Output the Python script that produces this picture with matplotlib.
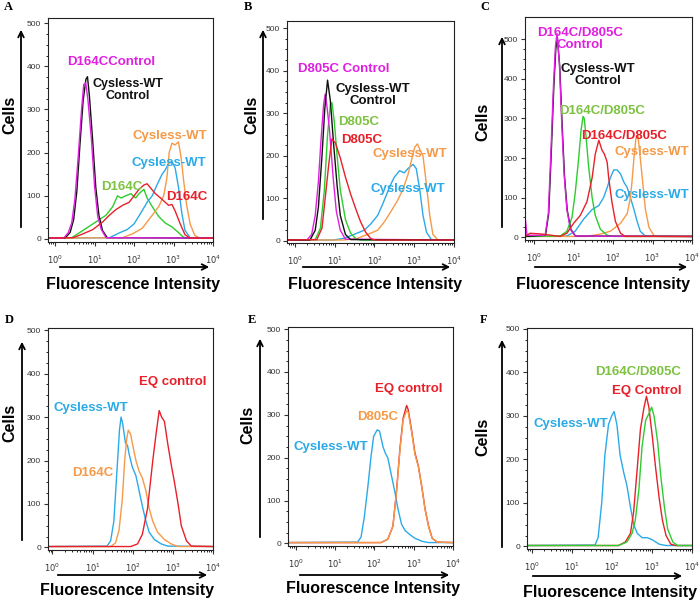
import numpy as np
import matplotlib
matplotlib.use('Agg')
import matplotlib.pyplot as plt
from matplotlib.ticker import FixedLocator, LogLocator, NullFormatter

plt.rcParams['font.family'] = ['Liberation Sans', 'DejaVu Sans']

# colours
MAG = '#e020e0'
BLK = '#111111'
GRN = '#2ecc2e'
GRN_T = '#7dc242'
RED = '#e8202a'
BLU = '#2aaae8'
ORG = '#f59a48'

# curves: (log10 fluorescence, cells)
A_mag = [(0.21, 1.5), (0.33, 14), (0.42, 37), (0.5, 91), (0.58, 184), (0.67, 300), (0.725, 358),
         (0.775, 362), (0.83, 324), (0.92, 231), (1.0, 122), (1.08, 52), (1.17, 22), (1.29, 3)]
A_blk = [(0.25, 2), (0.38, 15), (0.47, 45), (0.55, 110), (0.63, 220), (0.71, 320), (0.78, 370),
         (0.82, 376), (0.87, 330), (0.95, 230), (1.03, 120), (1.11, 55), (1.2, 20), (1.32, 3)]
A_grn = [(0.42, 3), (0.625, 15), (0.875, 30), (1.125, 45), (1.29, 55), (1.46, 75), (1.58, 100),
         (1.67, 95), (1.79, 100), (1.92, 105), (2.04, 95), (2.125, 105), (2.25, 115), (2.33, 95),
         (2.46, 75), (2.625, 52), (2.79, 37), (2.96, 28), (3.125, 15), (3.25, 4), (3.375, 2)]
A_red = [(0.46, 3), (0.71, 12), (0.96, 22), (1.21, 40), (1.375, 55), (1.54, 68), (1.71, 78),
         (1.875, 85), (2.0, 100), (2.125, 115), (2.25, 125), (2.33, 128), (2.42, 118), (2.54, 105),
         (2.67, 95), (2.79, 85), (2.875, 78), (2.96, 80), (3.04, 65), (3.17, 35), (3.29, 10), (3.42, 2)]
A_blu = [(1.375, 3), (1.625, 14), (1.83, 22), (2.0, 35), (2.17, 60), (2.33, 85), (2.46, 100),
         (2.58, 125), (2.71, 150), (2.79, 160), (2.875, 175), (2.96, 180), (3.04, 165), (3.125, 120),
         (3.21, 60), (3.29, 20), (3.42, 3)]
A_org = [(1.71, 3), (1.96, 12), (2.21, 25), (2.46, 55), (2.625, 75), (2.75, 100), (2.83, 140),
         (2.89, 200), (2.96, 222), (3.04, 218), (3.125, 225), (3.19, 190), (3.25, 140), (3.33, 80),
         (3.42, 35), (3.54, 8), (3.67, 2)]

B_mag = [(0.3, 2), (0.42, 15), (0.51, 60), (0.59, 140), (0.65, 230), (0.72, 320), (0.76, 345),
         (0.8, 320), (0.87, 260), (0.96, 150), (1.04, 70), (1.14, 25), (1.27, 4)]
B_blk = [(0.38, 2), (0.51, 25), (0.59, 80), (0.68, 200), (0.75, 310), (0.82, 378), (0.89, 330),
         (0.97, 230), (1.06, 130), (1.14, 60), (1.27, 15), (1.4, 3)]
B_grn = [(0.51, 3), (0.64, 30), (0.74, 120), (0.82, 250), (0.89, 320), (0.93, 325), (0.99, 280),
         (1.06, 200), (1.14, 120), (1.27, 50), (1.4, 18), (1.53, 5), (1.65, 2)]
B_red = [(0.55, 3), (0.68, 30), (0.76, 100), (0.85, 180), (0.93, 240), (1.02, 230), (1.14, 195),
         (1.27, 150), (1.4, 110), (1.53, 75), (1.65, 45), (1.78, 20), (1.91, 5), (2.03, 2)]
B_blu = [(0.97, 2), (1.23, 6), (1.48, 15), (1.74, 25), (1.91, 40), (2.08, 60), (2.2, 85),
         (2.33, 115), (2.42, 135), (2.5, 150), (2.63, 165), (2.75, 160), (2.84, 170), (2.97, 180),
         (3.05, 170), (3.14, 120), (3.22, 60), (3.31, 20), (3.43, 3)]
B_org = [(1.23, 2), (1.57, 6), (1.82, 15), (2.08, 25), (2.25, 45), (2.42, 70), (2.58, 95),
         (2.71, 120), (2.84, 155), (2.92, 185), (3.01, 220), (3.08, 228), (3.14, 215), (3.22, 200),
         (3.31, 130), (3.39, 60), (3.47, 15), (3.6, 2)]

C_mag = [(-0.23, 55), (-0.18, 5), (0.28, 5), (0.36, 60), (0.42, 200), (0.49, 380), (0.54, 480),
         (0.58, 515), (0.64, 440), (0.7, 290), (0.76, 160), (0.83, 70), (0.92, 20), (1.04, 3)]
C_blk = [(0.29, 5), (0.37, 60), (0.43, 200), (0.5, 380), (0.55, 475), (0.59, 505), (0.65, 430),
         (0.71, 285), (0.77, 155), (0.84, 68), (0.93, 20), (1.05, 3)]
C_grn = [(0.66, 3), (0.83, 15), (0.96, 50), (1.04, 110), (1.13, 200), (1.19, 270), (1.24, 305),
         (1.27, 300), (1.32, 250), (1.38, 180), (1.47, 100), (1.55, 55), (1.68, 20), (1.85, 5), (2.02, 2)]
C_red = [(-0.1, 10), (0.2, 8), (0.66, 2), (0.83, 10), (1.0, 35), (1.17, 55), (1.34, 90), (1.47, 150),
         (1.55, 210), (1.64, 245), (1.72, 220), (1.78, 210), (1.85, 190), (1.89, 150), (1.97, 90),
         (2.06, 40), (2.19, 10), (2.31, 2)]
C_blu = [(0.83, 3), (1.04, 15), (1.25, 45), (1.47, 70), (1.64, 80), (1.76, 100), (1.85, 125),
         (1.93, 150), (2.02, 170), (2.1, 170), (2.19, 160), (2.27, 140), (2.36, 125), (2.44, 100),
         (2.53, 70), (2.61, 40), (2.69, 15), (2.82, 3)]
C_org = [(1.34, 2), (1.68, 8), (1.93, 15), (2.19, 35), (2.36, 60), (2.44, 100), (2.48, 140),
         (2.53, 200), (2.58, 250), (2.63, 258), (2.69, 200), (2.76, 130), (2.82, 70), (2.91, 25),
         (3.03, 5), (3.16, 2)]

D_blu = [(1.36, 3), (1.45, 15), (1.53, 60), (1.61, 180), (1.67, 270), (1.71, 300), (1.75, 285),
         (1.82, 240), (1.87, 235), (1.91, 215), (1.99, 185), (2.08, 165), (2.16, 130), (2.24, 95),
         (2.33, 60), (2.41, 35), (2.54, 18), (2.71, 8), (2.87, 3)]
D_org = [(1.45, 2), (1.57, 10), (1.66, 40), (1.74, 110), (1.8, 200), (1.85, 250), (1.89, 270),
         (1.95, 260), (1.99, 240), (2.08, 200), (2.16, 175), (2.24, 160), (2.33, 130), (2.41, 90),
         (2.5, 60), (2.62, 35), (2.79, 18), (2.96, 8), (3.13, 2)]
D_red = [(1.95, 2), (2.12, 8), (2.24, 30), (2.37, 90), (2.5, 200), (2.58, 260), (2.66, 315),
         (2.72, 300), (2.79, 290), (2.87, 240), (2.96, 190), (3.04, 150), (3.13, 100), (3.21, 50),
         (3.34, 15), (3.46, 3)]

E_blu = [(1.57, 3), (1.66, 15), (1.74, 60), (1.83, 130), (1.91, 200), (1.98, 250), (2.07, 265),
         (2.13, 262), (2.22, 225), (2.28, 210), (2.34, 200), (2.43, 160), (2.52, 120), (2.6, 80),
         (2.69, 45), (2.78, 30), (2.91, 20), (3.03, 12), (3.21, 5), (3.38, 2)]
E_red = [(2.17, 2), (2.34, 10), (2.47, 40), (2.56, 120), (2.65, 222), (2.73, 292), (2.82, 322),
         (2.86, 312), (2.95, 262), (3.03, 212), (3.12, 180), (3.21, 130), (3.29, 80), (3.38, 40),
         (3.47, 12), (3.6, 3)]
E_org = [(2.17, 2), (2.34, 10), (2.47, 40), (2.56, 118), (2.65, 218), (2.73, 288), (2.82, 310),
         (2.86, 306), (2.95, 258), (3.03, 208), (3.12, 178), (3.21, 128), (3.29, 78), (3.38, 38),
         (3.47, 12), (3.6, 3)]

F_blu = [(1.57, 3), (1.65, 20), (1.74, 100), (1.82, 210), (1.91, 280), (1.99, 300), (2.05, 310),
         (2.12, 280), (2.2, 210), (2.29, 170), (2.37, 140), (2.46, 90), (2.54, 50), (2.63, 30),
         (2.75, 20), (2.88, 20), (3.01, 15), (3.18, 5), (3.35, 2)]
F_red = [(2.16, 2), (2.33, 10), (2.46, 30), (2.54, 80), (2.63, 180), (2.71, 270), (2.8, 320),
         (2.86, 345), (2.92, 320), (3.01, 250), (3.09, 180), (3.18, 110), (3.26, 60), (3.35, 25),
         (3.47, 5), (3.6, 2)]
F_grn = [(2.16, 2), (2.37, 10), (2.5, 30), (2.58, 60), (2.67, 130), (2.75, 230), (2.84, 290),
         (2.92, 305), (2.99, 320), (3.05, 300), (3.14, 240), (3.22, 160), (3.31, 90), (3.39, 40),
         (3.52, 10), (3.64, 2)]

# labels: (text, log10 x, cells, colour, ha, size)
A_labels = [('D164CControl', 0.3, 410, MAG, 'left', 9.5), ('Cysless-WT\nControl', 1.84, 345, BLK, 'center', 9),
            ('Cysless-WT', 1.95, 238, ORG, 'left', 9.5), ('Cysless-WT', 1.925, 176, BLU, 'left', 9.5),
            ('D164C', 1.175, 120, GRN_T, 'left', 9.5), ('D164C', 2.825, 97, RED, 'left', 9.5)]
B_labels = [('D805C Control', 0.08, 405, MAG, 'left', 9.5), ('Cysless-WT\nControl', 1.96, 342, BLK, 'center', 9.5),
            ('D805C', 1.09, 280, GRN_T, 'left', 9.5), ('D805C', 1.15, 238, RED, 'left', 9.5),
            ('Cysless-WT', 1.96, 205, ORG, 'left', 9.5), ('Cysless-WT', 1.91, 122, BLU, 'left', 9.5)]
C_labels = [('D164C/D805C\nControl', 1.17, 500, MAG, 'center', 9.5), ('Cysless-WT\nControl', 1.62, 410, BLK, 'center', 9.5),
            ('D164C/D805C', 1.72, 318, GRN_T, 'center', 9.5), ('D164C/D805C', 2.27, 256, RED, 'center', 9.5),
            ('Cysless-WT', 2.03, 214, ORG, 'left', 9.5), ('Cysless-WT', 2.03, 106, BLU, 'left', 9.5)]
D_labels = [('EQ control', 2.16, 380, RED, 'left', 9.5), ('Cysless-WT', 0.02, 320, BLU, 'left', 9.5),
            ('D164C', 0.48, 171, ORG, 'left', 9.5)]
E_labels = [('EQ control', 2.02, 361, RED, 'left', 9.5), ('D805C', 1.57, 295, ORG, 'left', 9.5),
            ('Cysless-WT', -0.07, 226, BLU, 'left', 9.5)]
F_labels = [('D164C/D805C', 1.57, 401, GRN_T, 'left', 9.5), ('EQ Control', 2.01, 358, RED, 'left', 9.5),
            ('Cysless-WT', 0.03, 282, BLU, 'left', 9.5)]

W, H = 700, 600
fig = plt.figure(figsize=(7, 6), dpi=100)


def fx(px):
    return px / W


def fy(py):
    return 1 - py / H


def panel(box, xlo, ylim, curves, labels, letter, letter_xy, yarrow, xarrow, cells_xy, fl_xy):
    left, right, top, bottom = box
    ax = fig.add_axes([fx(left), fy(bottom), fx(right - left), (bottom - top) / H])
    for pts, col in curves:
        lx = [xlo] + [p[0] for p in pts] + [4.0]
        ly = [2] + [p[1] for p in pts] + [2]
        ax.plot(10 ** np.array(lx), ly, color=col, lw=1.0)
    ax.set_xscale('log')
    ax.set_xlim(10 ** xlo, 10 ** 4.0)
    ax.set_ylim(*ylim)
    ax.xaxis.set_major_locator(FixedLocator([1, 10, 100, 1000, 10000]))
    ax.xaxis.set_minor_locator(LogLocator(base=10, subs=np.arange(2, 10)))
    ax.xaxis.set_minor_formatter(NullFormatter())
    ax.set_xticklabels(['$10^{0}$', '$10^{1}$', '$10^{2}$', '$10^{3}$', '$10^{4}$'])
    ax.set_yticks([0, 100, 200, 300, 400, 500])
    ax.set_yticks(np.arange(25, 500, 25), minor=True)
    ax.tick_params(axis='both', which='major', direction='out', length=3, width=0.8,
                   labelsize=6, colors='#333333', pad=2)
    ax.tick_params(axis='both', which='minor', direction='out', length=1.5, width=0.6)
    ax.tick_params(axis='x', which='major', pad=5)
    for s in ax.spines.values():
        s.set_linewidth(0.8)
        s.set_color('#222222')
    for txt, lx, y, col, ha, fs in labels:
        ax.text(10 ** lx, y, txt, color=col, fontsize=fs, fontweight='bold', ha=ha, va='center',
                linespacing=1.0)
    fig.text(fx(letter_xy[0]), fy(letter_xy[1]), letter, family='Liberation Serif',
             fontweight='bold', fontsize=9, ha='left', va='center')
    # axis arrows
    x0, y0, y1 = yarrow
    fig.add_artist(matplotlib.patches.FancyArrowPatch((fx(x0), fy(y0)), (fx(x0), fy(y1)),
                   transform=fig.transFigure, arrowstyle='->', mutation_scale=10, lw=1.3, color='black'))
    xa0, xa1, ya = xarrow
    fig.add_artist(matplotlib.patches.FancyArrowPatch((fx(xa0), fy(ya)), (fx(xa1), fy(ya)),
                   transform=fig.transFigure, arrowstyle='->', mutation_scale=10, lw=1.3, color='black'))
    fig.text(fx(cells_xy[0]), fy(cells_xy[1]), 'Cells', rotation=90, fontsize=11.5, fontweight='bold',
             ha='center', va='center')
    fig.text(fx(fl_xy[0]), fy(fl_xy[1]), 'Fluorescence Intensity', fontsize=11.5, fontweight='bold',
             ha='center', va='center')
    return ax


panel((48, 213, 18, 242), -0.18, (-7, 512),
      [(A_grn, GRN), (A_blu, BLU), (A_org, ORG), (A_blk, BLK), (A_mag, MAG), (A_red, RED)],
      A_labels, 'A', (4, 7), (21, 230, 27), (57, 212, 267), (10, 115), (133, 284))
panel((287, 454, 21, 243), -0.2, (-5, 517),
      [(B_blu, BLU), (B_org, ORG), (B_grn, GRN), (B_mag, MAG), (B_blk, BLK), (B_red, RED)],
      B_labels, 'B', (244, 7), (263, 222, 27), (300, 453, 267), (252, 115), (375, 284))
panel((525, 692, 17, 240), -0.23, (-7, 556),
      [(C_blu, BLU), (C_org, ORG), (C_grn, GRN), (C_blk, BLK), (C_mag, MAG), (C_red, RED)],
      C_labels, 'C', (480, 7), (502, 230, 34), (532, 690, 267), (483, 122), (603, 284))
panel((48, 213, 328, 550), -0.11, (-6, 505),
      [(D_blu, BLU), (D_org, ORG), (D_red, RED)],
      D_labels, 'D', (5, 320), (22, 543, 339), (55, 210, 575), (10, 423), (127, 590))
panel((288, 453, 327, 546), -0.2, (-6, 505),
      [(E_blu, BLU), (E_red, RED), (E_org, ORG)],
      E_labels, 'E', (248, 320), (260, 540, 336), (297, 452, 575), (248, 425), (373, 589))
panel((527, 692, 328, 549), -0.13, (-6, 502),
      [(F_blu, BLU), (F_red, RED), (F_grn, GRN)],
      F_labels, 'F', (480, 320), (502, 550, 337), (530, 685, 576), (483, 437), (610, 592))

fig.savefig('out.png', dpi=100)
